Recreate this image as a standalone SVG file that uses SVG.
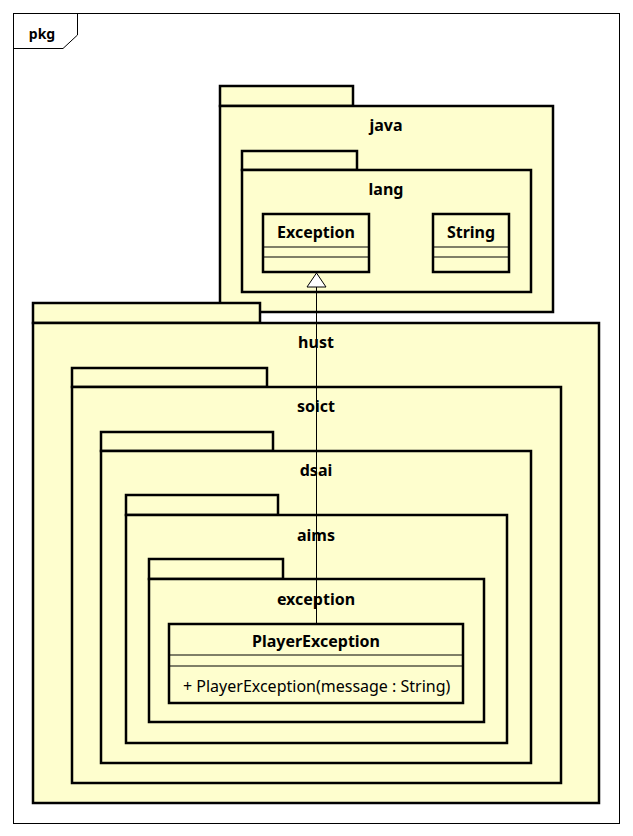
<svg xmlns="http://www.w3.org/2000/svg" width="633" height="836" viewBox="0 0 633 836">
<style>
.pk{fill:#FEFECE;stroke:#000;stroke-width:2.5}
.cl{fill:#FEFECE;stroke:#000;stroke-width:2.5}
.sep{stroke:#000;stroke-width:1}
.t{font-family:"Noto Sans","DejaVu Sans",sans-serif;font-size:16px;font-weight:bold;text-anchor:middle;fill:#000}
.p{font-family:"Noto Sans","DejaVu Sans",sans-serif;font-size:14px;font-weight:bold;text-anchor:middle;fill:#000}
.m{font-family:"Noto Sans","DejaVu Sans",sans-serif;font-size:16px;fill:#000}
</style>
<rect x="0" y="0" width="633" height="836" fill="#fff"/>
<g id="frame">
<rect x="13.5" y="13.5" width="606" height="810" fill="none" stroke="#000" stroke-width="1"/>
<path d="M77.5 13.5 V35 L63 48.5 H13.5" fill="none" stroke="#000" stroke-width="1"/>
<text x="42" y="39" class="p">pkg</text>
</g>
<g id="java">
<rect class="pk" x="220" y="86" width="133" height="20"/>
<rect class="pk" x="220" y="106" width="333" height="206"/>
<text x="386" y="131" class="t">java</text>
</g>
<g id="lang">
<rect class="pk" x="242" y="151" width="115" height="19"/>
<rect class="pk" x="242" y="170" width="289" height="122"/>
<text x="386" y="195" class="t">lang</text>
</g>
<g id="Exception">
<rect class="cl" x="263" y="214" width="106" height="58"/>
<line class="sep" x1="263" y1="247" x2="369" y2="247"/>
<line class="sep" x1="263" y1="257" x2="369" y2="257"/>
<text x="316" y="238" class="t">Exception</text>
</g>
<g id="String">
<rect class="cl" x="433" y="214" width="76" height="58"/>
<line class="sep" x1="433" y1="247" x2="509" y2="247"/>
<line class="sep" x1="433" y1="257" x2="509" y2="257"/>
<text x="471" y="238" class="t">String</text>
</g>
<g id="hust">
<rect class="pk" x="33" y="303" width="227" height="20"/>
<rect class="pk" x="33" y="323" width="566" height="480"/>
<text x="316" y="348" class="t">hust</text>
</g>
<g id="soict">
<rect class="pk" x="72" y="368" width="195" height="19"/>
<rect class="pk" x="72" y="387" width="489" height="396"/>
<text x="316" y="412" class="t">soict</text>
</g>
<g id="dsai">
<rect class="pk" x="101" y="432" width="172" height="19"/>
<rect class="pk" x="101" y="451" width="430" height="312"/>
<text x="316" y="476" class="t">dsai</text>
</g>
<g id="aims">
<rect class="pk" x="126" y="495" width="152" height="20"/>
<rect class="pk" x="126" y="515" width="381" height="228"/>
<text x="316" y="541" class="t">aims</text>
</g>
<g id="exception">
<rect class="pk" x="149" y="559" width="134" height="20"/>
<rect class="pk" x="149" y="579" width="335" height="143"/>
<text x="316" y="605" class="t">exception</text>
</g>
<g id="PlayerException">
<rect class="cl" x="169" y="624" width="294" height="79"/>
<line class="sep" x1="169" y1="655" x2="463" y2="655"/>
<line class="sep" x1="169" y1="666" x2="463" y2="666"/>
<text x="316" y="647" class="t">PlayerException</text>
<text x="183" y="692" class="m">+ PlayerException(message : String)</text>
</g>
<g id="connectors">
<line x1="316.5" y1="287" x2="316.5" y2="623" stroke="#000" stroke-width="1"/>
<polygon points="316.5,273 307,287 326,287" fill="#fff" stroke="#000" stroke-width="1"/>
</g>
</svg>
